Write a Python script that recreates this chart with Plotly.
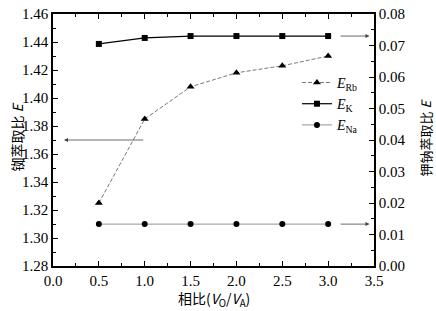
import plotly.graph_objects as go

phase_ratio = [0.5, 1.0, 1.5, 2.0, 2.5, 3.0]
E_Rb = [1.325, 1.385, 1.408, 1.418, 1.423, 1.430]
E_K = [0.0705, 0.0724, 0.0730, 0.0730, 0.0730, 0.0730]
E_Na = [0.0133, 0.0133, 0.0133, 0.0133, 0.0133, 0.0133]

serif = "Liberation Serif"
cjk = "Noto Sans CJK SC"

fig = go.Figure()
fig.add_trace(go.Scatter(x=phase_ratio, y=E_Rb, mode="lines+markers",
                         name="<i>E</i><sub>Rb</sub>",
                         line=dict(color="#555", width=0.8, dash="4px,2px"),
                         marker=dict(symbol="triangle-up", size=7, color="black")))
fig.add_trace(go.Scatter(x=phase_ratio, y=E_K, mode="lines+markers", yaxis="y2",
                         name="<i>E</i><sub>K</sub>",
                         line=dict(color="black", width=1.2),
                         marker=dict(symbol="square", size=6, color="black")))
fig.add_trace(go.Scatter(x=phase_ratio, y=E_Na, mode="lines+markers", yaxis="y2",
                         name="<i>E</i><sub>Na</sub>",
                         line=dict(color="#777", width=0.8),
                         marker=dict(symbol="circle", size=6, color="black")))

axis_common = dict(showline=True, linecolor="black", linewidth=1.5, mirror=False,
                   ticks="inside", ticklen=5, tickwidth=1, tickcolor="black",
                   showgrid=False, zeroline=False, automargin=False,
                   ticklabeloverflow="allow",
                   tickfont=dict(family=serif, size=15, color="black"))
line_only = {k: v for k, v in axis_common.items() if k not in ("tickfont", "ticklabeloverflow")}

fig.update_layout(
    width=436, height=311,
    margin=dict(l=53, r=62, t=14, b=45, autoexpand=False),
    plot_bgcolor="white", paper_bgcolor="white",
    showlegend=True,
    legend=dict(x=0.76, y=0.79, xanchor="left", yanchor="top",
                bgcolor="rgba(0,0,0,0)", font=dict(family=serif, size=14, color="black"),
                itemwidth=30, tracegroupgap=0),
    xaxis=dict(range=[0, 3.5], dtick=0.5, tickformat=".1f",
               minor=dict(dtick=0.25, ticks="inside", ticklen=3, tickcolor="black"),
               **axis_common),
    xaxis2=dict(range=[0, 3.5], overlaying="x", side="top", showticklabels=False,
                dtick=0.5, minor=dict(dtick=0.25, ticks="inside", ticklen=3, tickcolor="black"),
                **line_only),
    yaxis=dict(range=[1.28, 1.46], dtick=0.02, tickformat=".2f",
               minor=dict(dtick=0.01, ticks="inside", ticklen=3, tickcolor="black"),
               **axis_common),
    yaxis2=dict(range=[0, 0.08], dtick=0.01, tickformat=".2f", overlaying="y", side="right",
                minor=dict(dtick=0.005, ticks="inside", ticklen=3, tickcolor="black"),
                **axis_common),
)
fig.add_trace(go.Scatter(x=[0], y=[1.28], xaxis="x2", mode="markers",
                         marker=dict(opacity=0), showlegend=False, hoverinfo="skip"))

# axis titles
fig.add_annotation(text="相比(<i>V</i><sub>O</sub>/<i>V</i><sub>A</sub>)", xref="paper", yref="paper",
                   x=0.5, y=-0.13, xanchor="center", yanchor="middle", showarrow=False,
                   font=dict(family=cjk, size=14, color="black"))
fig.add_annotation(text="铷萃取比 <i>E</i>", xref="paper", yref="paper", textangle=-90,
                   x=-0.112, y=0.51, xanchor="center", yanchor="middle", showarrow=False,
                   font=dict(family=cjk, size=14, color="black"))
fig.add_annotation(text="钾钠萃取比 <i>E</i>", xref="paper", yref="paper", textangle=-90,
                   x=1.159, y=0.51, xanchor="center", yanchor="middle", showarrow=False,
                   font=dict(family=cjk, size=13, color="black"))

arrow = dict(showarrow=True, arrowhead=2, arrowsize=1, arrowwidth=0.8, arrowcolor="#444", text="")
fig.add_annotation(x=0.12, y=1.37, ax=1.0, ay=1.37, xref="x", yref="y", axref="x", ayref="y", **arrow)
fig.add_annotation(x=3.45, y=E_K[-1], ax=3.12, ay=E_K[-1], xref="x", yref="y2", axref="x", ayref="y2", **arrow)
fig.add_annotation(x=3.45, y=E_Na[-1], ax=3.12, ay=E_Na[-1], xref="x", yref="y2", axref="x", ayref="y2", **arrow)

fig.write_html("out.html", config={"displayModeBar": False},
               post_script="document.body.style.margin='0px';")
